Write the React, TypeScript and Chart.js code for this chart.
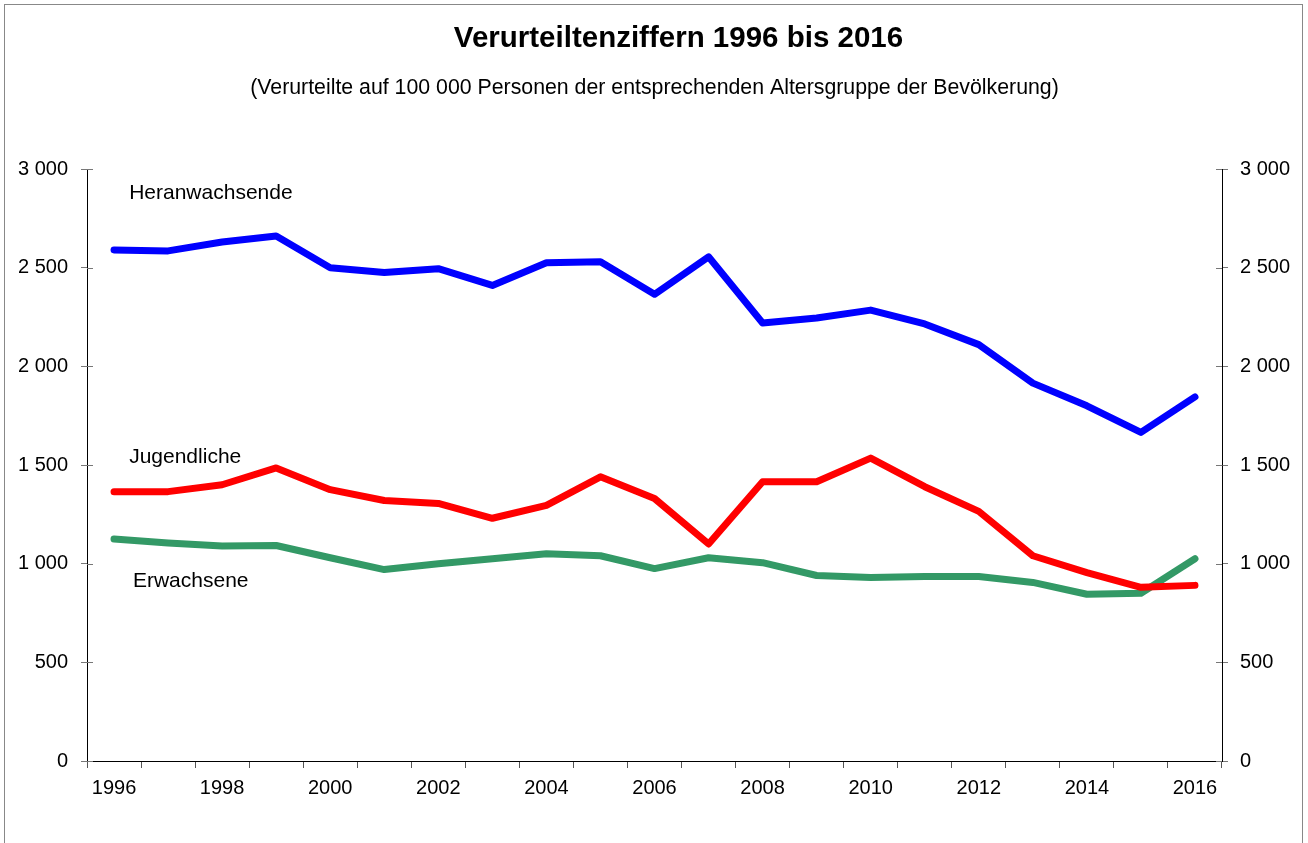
import React, { useEffect, useRef } from "react";
import { Chart, registerables } from "chart.js";

Chart.register(...registerables);

const years = [
  "1996", "1997", "1998", "1999", "2000", "2001", "2002", "2003", "2004", "2005", "2006",
  "2007", "2008", "2009", "2010", "2011", "2012", "2013", "2014", "2015", "2016",
];
const heranwachsende = [2590, 2585, 2630, 2660, 2500, 2475, 2495, 2410, 2525, 2530, 2365, 2555, 2220, 2245, 2285, 2215, 2110, 1915, 1800, 1665, 1845];
const jugendliche = [1365, 1365, 1400, 1485, 1375, 1320, 1305, 1230, 1295, 1440, 1330, 1100, 1415, 1415, 1535, 1390, 1265, 1040, 955, 880, 890];
const erwachsene = [1125, 1105, 1090, 1092, 1030, 970, 1000, 1025, 1050, 1040, 975, 1030, 1005, 940, 930, 935, 935, 905, 845, 850, 1025];

const seriesNames = ["Heranwachsende", "Jugendliche", "Erwachsene"];
const seriesColors = ["#0000FF", "#FF0000", "#339966"];
const annotationX = [0.28, 0.28, 0.35];
const annotationY = [2875, 1538, 910];

const title = "Verurteiltenziffern 1996 bis 2016";
const subtitle = "(Verurteilte auf 100 000 Personen der entsprechenden Altersgruppe der Bevölkerung)";
const yMin = 0;
const yMax = 3000;
const yStep = 500;

const FONT = "'Liberation Sans', Arial, sans-serif";

function fmt(v: number): string {
  const s = String(Math.round(v));
  return s.replace(/\B(?=(\d{3})+(?!\d))/g, " ");
}

const overlayPlugin = {
  id: "overlay",
  afterDraw(chart: any) {
    const ctx = chart.ctx;
    const area = chart.chartArea;
    const x = chart.scales.x;
    const y = chart.scales.y;
    ctx.save();
    // titles
    ctx.fillStyle = "#000";
    ctx.textAlign = "center";
    ctx.textBaseline = "middle";
    const cx = (area.left + area.right) / 2;
    ctx.font = `bold 29.5px ${FONT}`;
    ctx.fillText(title, cx + 24, 39);
    ctx.font = `21.3px ${FONT}`;
    ctx.fillText(subtitle, cx, 88);
    // series annotations
    ctx.textAlign = "left";
    ctx.font = `21px ${FONT}`;
    seriesNames.forEach((name, i) => {
      ctx.fillText(name, x.getPixelForValue(annotationX[i]), y.getPixelForValue(annotationY[i]));
    });
    // inner tick parts on y axes
    ctx.strokeStyle = "#777";
    ctx.lineWidth = 1;
    for (let v = yMin; v <= yMax; v += yStep) {
      const py = Math.round(y.getPixelForValue(v)) + 0.5;
      ctx.beginPath();
      ctx.moveTo(area.left, py);
      ctx.lineTo(area.left + 6, py);
      ctx.moveTo(area.right, py);
      ctx.lineTo(area.right - 6, py);
      ctx.stroke();
    }
    ctx.restore();
  },
};

export default function App() {
  const ref = useRef<HTMLCanvasElement | null>(null);

  useEffect(() => {
    if (!ref.current) return;
    const datasets = [heranwachsende, jugendliche, erwachsene].map((d, i) => ({
      label: seriesNames[i],
      data: d,
      borderColor: seriesColors[i],
      backgroundColor: seriesColors[i],
      borderWidth: 7,
      pointRadius: 0,
      borderCapStyle: "round" as const,
      borderJoinStyle: "round" as const,
      tension: 0,
      fill: false,
      yAxisID: "y",
    }));
    const chart = new Chart(ref.current, {
      type: "line",
      data: {
        labels: years,
        datasets: [
          ...datasets,
          { label: "", data: [], yAxisID: "y2", borderWidth: 0, pointRadius: 0 } as any,
        ],
      },
      plugins: [overlayPlugin],
      options: {
        animation: false,
        responsive: false,
        maintainAspectRatio: false,
        layout: { padding: { top: 169, left: 0, right: 0, bottom: 0 } },
        plugins: {
          legend: { display: false },
          tooltip: { enabled: false },
          title: { display: false },
        },
        scales: {
          x: {
            type: "category",
            offset: true,
            afterFit: (s: any) => {
              s.height = 82;
            },
            grid: {
              offset: true,
              drawOnChartArea: false,
              drawTicks: true,
              tickLength: 7,
              color: "#555",
            },
            border: { display: true, color: "#000", width: 1 },
            ticks: {
              autoSkip: false,
              maxRotation: 0,
              minRotation: 0,
              padding: 8,
              color: "#000",
              font: { family: FONT, size: 20 },
              callback: (_v: any, i: number) => (i % 2 === 0 ? years[i] : ""),
            },
          },
          y: {
            position: "left",
            min: yMin,
            max: yMax,
            afterFit: (s: any) => {
              s.width = 87;
            },
            grid: { drawOnChartArea: false, drawTicks: true, tickLength: 6, color: "#777" },
            border: { display: true, color: "#000", width: 1 },
            ticks: {
              stepSize: yStep,
              padding: 13,
              color: "#000",
              font: { family: FONT, size: 20 },
              callback: (v: any) => fmt(Number(v)),
            },
          },
          y2: {
            position: "right",
            min: yMin,
            max: yMax,
            afterFit: (s: any) => {
              s.width = 86;
            },
            grid: { drawOnChartArea: false, drawTicks: true, tickLength: 6, color: "#777" },
            border: { display: true, color: "#000", width: 1 },
            ticks: {
              stepSize: yStep,
              padding: 12,
              color: "#000",
              font: { family: FONT, size: 20 },
              callback: (v: any) => fmt(Number(v)),
            },
          },
        },
      },
    });
    return () => chart.destroy();
  }, []);

  return (
    <div style={{ position: "fixed", left: 0, top: 0, width: 1308, height: 843, background: "#fff", overflow: "hidden" }}>
      <div
        style={{
          position: "absolute",
          left: 4,
          top: 4,
          width: 1299,
          height: 900,
          border: "1px solid #888",
          boxSizing: "border-box",
        }}
      />
      <canvas ref={ref} width={1308} height={843} style={{ position: "absolute", left: 0, top: 0, width: 1308, height: 843 }} />
    </div>
  );
}
